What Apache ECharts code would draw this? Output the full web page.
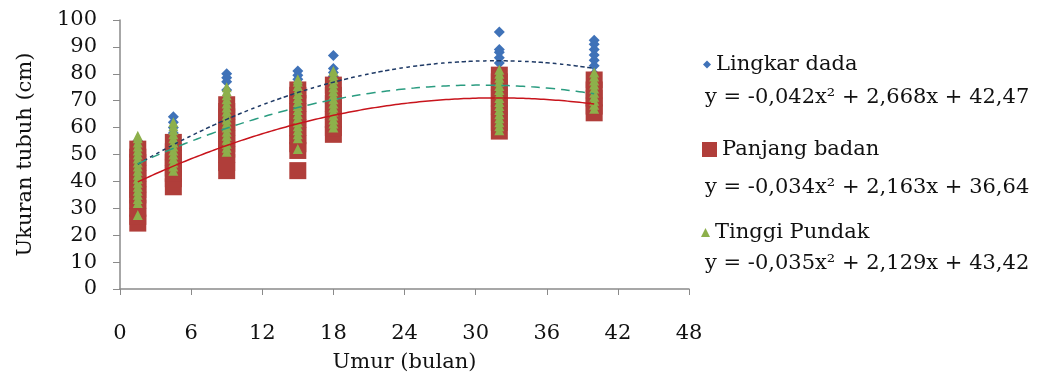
<!DOCTYPE html>
<html>
<head>
<meta charset="utf-8">
<script src="https://cdn.jsdelivr.net/npm/echarts@6/dist/echarts.min.js"></script>
<style>
  html, body { margin: 0; padding: 0; background: #fff; }
  #main { width: 1041px; height: 378px; }
</style>
</head>
<body>
<div id="main"></div>
<script>
// umur (bulan) tiap kelompok
var ages = [1.5, 4.5, 9, 15, 18, 32, 40];

// Lingkar dada, per kelompok umur
var lingkarDada = [
  [40, 43, 45, 47, 49, 51, 53, 55],
  [48, 50, 52, 54, 56, 58, 60, 62, 64],
  [58, 62, 66, 70, 74, 77, 78.5, 80],
  [60, 65, 70, 75, 78, 79.5, 81],
  [65, 70, 75, 79, 80.5, 82, 86.8],
  [70, 75, 80, 84, 86, 88, 89, 95.5],
  [75, 80, 83, 85, 87, 89, 91, 92.5]
];

// Panjang badan
var panjangBadan = [
  [24.5, 27, 30, 33, 35, 37, 39, 41, 43, 45, 47, 49, 52],
  [38, 41, 43, 45, 47, 49, 51, 54.5],
  [44, 47, 50, 52, 54, 56, 58, 60, 62, 64, 66, 68.5],
  [44, 51.5, 54, 57, 60, 63, 66, 69, 72, 74],
  [57.5, 60, 63, 66, 69, 72, 75.8],
  [58.7, 62, 65, 68, 71, 74, 77, 79.5],
  [65.5, 68, 71, 74, 77.7]
];

// Tinggi pundak
var tinggiPundak = [
  [27.5, 32, 33.5, 35, 36.5, 38, 39.5, 41, 42.5, 44, 45.5, 47, 48.5, 50, 51.5, 53, 54.5, 56, 57],
  [44, 45.5, 47, 48.5, 50, 51.5, 53, 54.5, 56, 57.5, 59, 60.5, 62],
  [51, 52.5, 54, 55.5, 57, 58.5, 60, 61.5, 63, 64.5, 66, 67.5, 69, 70.5, 72, 73.5, 75],
  [52, 56, 57.5, 59, 60.5, 62, 63.5, 65, 66.5, 68, 69.5, 71, 72.5, 74, 75.5, 77, 78],
  [60, 61.5, 63, 64.5, 66, 67.5, 69, 70.5, 72, 73.5, 75, 76.5, 78, 79.5, 81],
  [59, 60.5, 62, 63.5, 65, 66.5, 68, 69.5, 71, 72.5, 74, 75.5, 77, 78.5, 80, 81.5],
  [67, 68.5, 70, 71.5, 73, 74.5, 76, 77.5, 79, 80.5]
];

// koefisien polinomial (a, b, c) : y = a x^2 + b x + c
var coefLingkar = [-0.042, 2.668, 42.47];
var coefPanjang = [-0.034, 2.163, 36.64];
var coefTinggi = [-0.035, 2.129, 43.42];

var seriesNames = ['Lingkar dada', 'Panjang badan', 'Tinggi Pundak'];
var equations = [
  'y = -0,042x² + 2,668x + 42,47',
  'y = -0,034x² + 2,163x + 36,64',
  'y = -0,035x² + 2,129x + 43,42'
];

var FONT = 'DejaVu Serif';

function toPoints(groups) {
  var out = [];
  for (var i = 0; i < groups.length; i++) {
    for (var j = 0; j < groups[i].length; j++) {
      out.push([ages[i], groups[i][j]]);
    }
  }
  return out;
}

// garis trend dari persamaan di legenda
function trendLine(coef) {
  var pts = [];
  for (var x = ages[0]; x <= ages[ages.length - 1] + 0.001; x += 0.5) {
    pts.push([x, coef[0] * x * x + coef[1] * x + coef[2]]);
  }
  return pts;
}

var myChart = echarts.init(document.getElementById('main'));

var option = {
  animation: false,
  backgroundColor: '#fff',
  grid: { left: 120, right: 352, top: 20, bottom: 89 },
  xAxis: {
    type: 'value',
    min: 0, max: 48, interval: 6,
    name: 'Umur (bulan)',
    nameLocation: 'middle',
    nameGap: 63,
    nameTextStyle: { fontFamily: FONT, fontSize: 21, color: '#111' },
    axisLine: { lineStyle: { color: '#8a8a8a', width: 1.5 } },
    axisTick: { show: true, length: 6, lineStyle: { color: '#8a8a8a' } },
    axisLabel: { margin: 34, fontFamily: FONT, fontSize: 21, color: '#111' },
    splitLine: { show: false }
  },
  yAxis: {
    type: 'value',
    min: 0, max: 100, interval: 10,
    name: 'Ukuran tubuh (cm)',
    nameLocation: 'middle',
    nameGap: 84,
    nameTextStyle: { fontFamily: FONT, fontSize: 21, color: '#111' },
    axisLine: { show: true, lineStyle: { color: '#8a8a8a', width: 1.5 } },
    axisTick: { show: true, length: 7, lineStyle: { color: '#8a8a8a' } },
    axisLabel: { margin: 23, fontFamily: FONT, fontSize: 21, color: '#111' },
    splitLine: { show: false }
  },
  legend: [
    {
      data: [seriesNames[0]], orient: 'vertical', left: 703, top: 54, padding: 0,
      itemWidth: 8, itemHeight: 8, icon: 'diamond',
      textStyle: { fontFamily: FONT, fontSize: 21, color: '#111' }
    },
    {
      data: [seriesNames[1]], orient: 'vertical', left: 702, top: 139, padding: 0,
      itemWidth: 15, itemHeight: 15, icon: 'rect',
      textStyle: { fontFamily: FONT, fontSize: 21, color: '#111' }
    },
    {
      data: [seriesNames[2]], orient: 'vertical', left: 701, top: 222, padding: 0,
      itemWidth: 9, itemHeight: 9, icon: 'triangle',
      textStyle: { fontFamily: FONT, fontSize: 21, color: '#111' }
    }
  ],
  graphic: [
    { type: 'text', x: 705, y: 98, style: { text: equations[0], font: '21px "DejaVu Serif"', fill: '#111', verticalAlign: 'middle' } },
    { type: 'text', x: 705, y: 188, style: { text: equations[1], font: '21px "DejaVu Serif"', fill: '#111', verticalAlign: 'middle' } },
    { type: 'text', x: 705, y: 264, style: { text: equations[2], font: '21px "DejaVu Serif"', fill: '#111', verticalAlign: 'middle' } }
  ],
  series: [
    {
      name: seriesNames[0], type: 'scatter', symbol: 'diamond', symbolSize: 11,
      itemStyle: { color: '#3f72b8', opacity: 1 },
      data: toPoints(lingkarDada), z: 2
    },
    {
      name: seriesNames[1], type: 'scatter', symbol: 'rect', symbolSize: 17,
      itemStyle: { color: '#b03e3a', opacity: 1 },
      data: toPoints(panjangBadan), z: 3
    },
    {
      name: seriesNames[2], type: 'scatter', symbol: 'triangle', symbolSize: 10,
      itemStyle: { color: '#8db04b', opacity: 1 },
      data: toPoints(tinggiPundak), z: 4
    },
    {
      name: 'trend ' + seriesNames[0], type: 'line', showSymbol: false, smooth: true,
      lineStyle: { color: '#1f3a66', width: 1.5, type: [4, 3] },
      data: trendLine(coefLingkar), z: 5, silent: true
    },
    {
      name: 'trend ' + seriesNames[1], type: 'line', showSymbol: false, smooth: true,
      lineStyle: { color: '#c8141c', width: 1.5, type: 'solid' },
      data: trendLine(coefPanjang), z: 5, silent: true
    },
    {
      name: 'trend ' + seriesNames[2], type: 'line', showSymbol: false, smooth: true,
      lineStyle: { color: '#2a9c80', width: 1.5, type: [9, 6] },
      data: trendLine(coefTinggi), z: 5, silent: true
    }
  ]
};

myChart.setOption(option);
</script>
</body>
</html>
